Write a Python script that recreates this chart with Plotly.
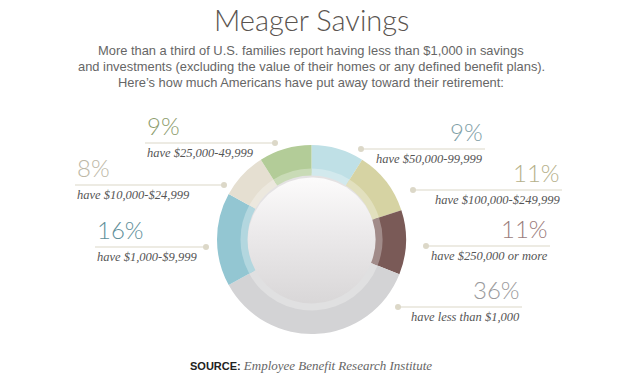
import plotly.graph_objects as go
import numpy as np

# ---- data ----
categories = ["$50,000-99,999", "$100,000-$249,999", "$250,000 or more",
              "less than $1,000", "$1,000-$9,999", "$10,000-$24,999", "$25,000-49,999"]
shares = [9, 11, 11, 36, 16, 8, 9]
slice_colors = ["#bfe0e6", "#d6d3a3", "#7a5a57", "#d3d3d5", "#93c6d2", "#e5dfd1", "#b3cc98"]
pct_colors = ["#7e9ea6", "#b5b08a", "#9a7c7c", "#9a9a9c", "#5f8f9a", "#bdb8a6", "#8c9c6c"]
label_texts = ["have $50,000-99,999", "have $100,000-$249,999", "have $250,000 or more",
               "have less than $1,000", "have $1,000-$9,999", "have $10,000-$24,999",
               "have $25,000-49,999"]

W, H = 619, 379
cx, cy, R = 311.5, 239.5, 94.5
THIN = "Lato Light, Lato Hairline, Lato"

def lighten(hexc, f):
    h = hexc.lstrip("#")
    r, g, b = int(h[0:2], 16), int(h[2:4], 16), int(h[4:6], 16)
    r = int(r + (255 - r) * f); g = int(g + (255 - g) * f); b = int(b + (255 - b) * f)
    return f"rgb({r},{g},{b})"

def dom(radius, ccx=cx, ccy=cy):
    return dict(x=[(ccx - radius) / W, (ccx + radius) / W],
                y=[(H - ccy - radius) / H, (H - ccy + radius) / H])

fig = go.Figure()

# main donut
fig.add_trace(go.Pie(values=shares, labels=categories, sort=False, direction="clockwise",
                     rotation=0, hole=0.70, marker=dict(colors=slice_colors, line=dict(width=0)),
                     textinfo="none", hoverinfo="label+percent", domain=dom(R), showlegend=False))
# inner tinted band
r2 = 71
fig.add_trace(go.Pie(values=shares, labels=categories, sort=False, direction="clockwise",
                     rotation=0, hole=64 / r2,
                     marker=dict(colors=[lighten(c, 0.3) for c in slice_colors], line=dict(width=0)),
                     textinfo="none", hoverinfo="skip", domain=dom(r2), showlegend=False))

# central disc (shadow + rim + gradient face)
t = np.linspace(0, 2 * np.pi, 200)
dcx, dcy = 312, 242
for rad, fillspec in [(69, dict(fillcolor="rgba(190,188,189,0.4)")),
                      (67.5, dict(fillcolor="#e4e2e3")),
                      (64.5, dict(fillgradient=dict(type="vertical",
                                                     colorscale=[[0, "#d8d6d7"], [0.55, "#ebe9ea"], [1, "#fcfbfb"]])))]:
    fig.add_trace(go.Scatter(x=dcx + rad * np.cos(t), y=dcy + rad * np.sin(t), mode="lines",
                             fill="toself", line=dict(width=0), hoverinfo="skip",
                             showlegend=False, **fillspec))

# label layout (pixel positions): text anchor x, line y, dot x, side
layout_pos = [
    (485, 149, 361, "right"),
    (562, 190, 413, "right"),
    (550, 246, 426, "right"),
    (522, 307, 398, "right"),
    (95, 247, 206, "left"),
    (75, 185, 224, "left"),
    (145, 143, 275, "left"),
]

line_col = "#dcd8c8"
for i, (ax_, ly, dx, side) in enumerate(layout_pos):
    x0, x1 = (dx, ax_) if side == "right" else (ax_, dx)
    fig.add_trace(go.Scatter(x=[x0, x1], y=[ly, ly], mode="lines",
                             line=dict(color=line_col, width=1.2), hoverinfo="skip", showlegend=False))
    fig.add_trace(go.Scatter(x=[dx], y=[ly], mode="markers",
                             marker=dict(color=line_col, size=6), hoverinfo="skip", showlegend=False))
    fig.add_annotation(x=ax_, y=ly - 1, xref="x", yref="y", text=f"{shares[i]}%",
                       xanchor=side, yanchor="bottom", showarrow=False,
                       font=dict(family=THIN, size=24, color=pct_colors[i], weight=300))
    fig.add_annotation(x=ax_, y=ly + 1, xref="x", yref="y", text=f"<i>{label_texts[i]}</i>",
                       xanchor=side, yanchor="top", showarrow=False,
                       font=dict(family="Liberation Serif", size=12.5, color="#555555"))

# title / subtitle / source
fig.add_annotation(x=311, y=19, xref="x", yref="y", text="Meager Savings", showarrow=False,
                   xanchor="center", yanchor="middle",
                   font=dict(family=THIN, size=29, color="#5a5450", weight=300))
sub = ["More than a third of U.S. families report having less than $1,000 in savings",
       "and investments (excluding the value of their homes or any defined benefit plans).",
       "Here\u2019s how much Americans have put away toward their retirement:"]
for k, s in enumerate(sub):
    fig.add_annotation(x=311, y=50 + 16 * k, xref="x", yref="y", text=s, showarrow=False,
                       xanchor="center", yanchor="middle",
                       font=dict(family="Liberation Sans", size=12.9, color="#666666"))
fig.add_annotation(x=311, y=365, xref="x", yref="y",
                   text="<b>SOURCE:</b> <span style='font-family:Liberation Serif;font-size:13px;color:#666666'><i>Employee Benefit Research Institute</i></span>",
                   showarrow=False, xanchor="center", yanchor="middle",
                   font=dict(family="Liberation Sans", size=11, color="#222222"))

fig.update_layout(width=W, height=H, margin=dict(l=0, r=0, t=0, b=0),
                  paper_bgcolor="white", plot_bgcolor="rgba(0,0,0,0)",
                  xaxis=dict(range=[0, W], visible=False, fixedrange=True),
                  yaxis=dict(range=[H, 0], visible=False, fixedrange=True),
                  showlegend=False)
fig.write_html("out.html", config={"displayModeBar": False},
               post_script="document.body.style.margin='0';")
